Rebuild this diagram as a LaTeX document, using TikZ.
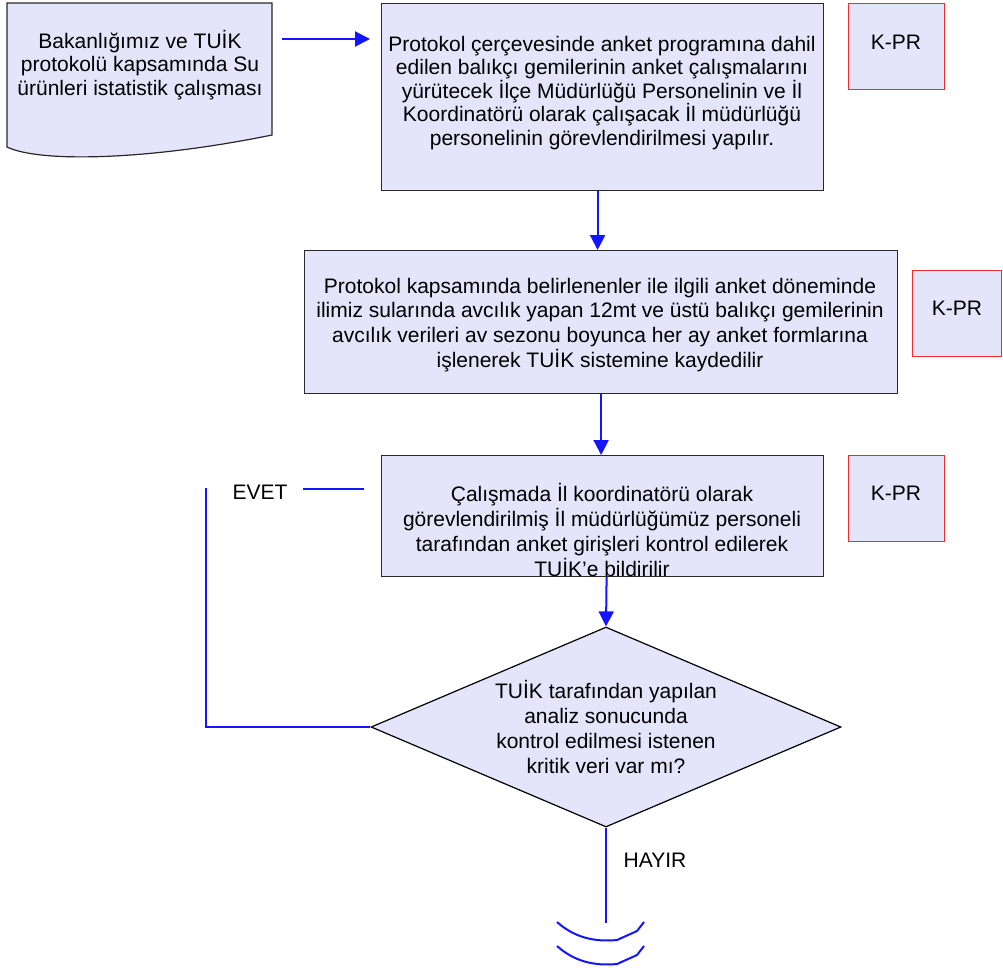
\documentclass[tikz,border=0pt]{standalone}
\usepackage{fontspec}
\setmainfont{Liberation Sans}
\usetikzlibrary{arrows.meta,shapes.geometric}
\definecolor{boxfill}{RGB}{228,228,250}
\definecolor{edgecol}{RGB}{40,40,40}
\definecolor{flowcol}{RGB}{20,20,255}
\definecolor{kprcol}{RGB}{240,45,45}
\begin{document}
\begin{tikzpicture}[x=1pt,y=-1pt,
  boxnode/.style={draw=edgecol,line width=1.2pt,fill=boxfill,inner sep=0pt,anchor=north west},
  kprnode/.style={draw=kprcol,line width=1.2pt,fill=boxfill,inner sep=0pt,anchor=north west},
  dianode/.style={diamond,draw=black,line width=1.2pt,fill=boxfill,inner sep=0pt,minimum width=470pt,minimum height=200pt},
  docshape/.style={draw=edgecol,line width=1.2pt,fill=boxfill},
  txt/.style={align=center,inner sep=0pt,font=\fontsize{21}{24.8}\selectfont},
  txtb/.style={align=center,inner sep=0pt,font=\fontsize{21}{23.5}\selectfont},
  flowline/.style={draw=flowcol,line width=2pt},
  arr/.style={flowline,-{Triangle[length=15pt,width=15pt]}}
]
\useasboundingbox (0,0) rectangle (1003,967);

% document shape
\draw[docshape] (7,3) -- (272,3) -- (272,135) .. controls (150,160) and (40,163) .. (7,147) -- cycle;
\node[txtb] (doctext) at (140,65) {Bakanlığımız ve TUİK\\protokolü kapsamında Su\\ürünleri istatistik çalışması};

% boxes
\node[boxnode,minimum width=442pt,minimum height=187pt] (b1) at (381,3) {};
\node[txtb] (t1) at (602,93) {Protokol çerçevesinde anket programına dahil\\edilen balıkçı gemilerinin anket çalışmalarını\\yürütecek İlçe Müdürlüğü Personelinin ve İl\\Koordinatörü olarak çalışacak İl müdürlüğü\\personelinin görevlendirilmesi yapılır.};

\node[boxnode,minimum width=593pt,minimum height=143pt] (b2) at (304,250) {};
\node[txt] (t2) at (600,325) {Protokol kapsamında belirlenenler ile ilgili anket döneminde\\ilimiz sularında avcılık yapan 12mt ve üstü balıkçı gemilerinin\\avcılık verileri av sezonu boyunca her ay anket formlarına\\işlenerek TUİK sistemine kaydedilir};

\node[boxnode,minimum width=442pt,minimum height=121pt] (b3) at (381,455) {};
\node[txt] (t3) at (602,530) {Çalışmada İl koordinatörü olarak\\görevlendirilmiş İl müdürlüğümüz personeli\\tarafından anket girişleri kontrol edilerek\\TUİK’e bildirilir};

% K-PR boxes
\node[kprnode,minimum width=96pt,minimum height=86pt] (k1) at (848,3) {};
\node[txt] (k1t) at (896,42) {K-PR};
\node[kprnode,minimum width=89pt,minimum height=86pt] (k2) at (912,270) {};
\node[txt] (k2t) at (957,308) {K-PR};
\node[kprnode,minimum width=96pt,minimum height=86pt] (k3) at (848,455) {};
\node[txt] (k3t) at (896,493) {K-PR};

% decision
\node[dianode] (dia) at (606,727) {};
\node[txt] (dt) at (606,727) {TUİK tarafından yapılan\\analiz sonucunda\\kontrol edilmesi istenen\\kritik veri var mı?};

% connectors
\coordinate (docE) at (282,39);
\draw[arr,shorten >=11pt] (docE) -- (docE -| b1.west);
\draw[arr] ([xshift=-5pt]b1.south) -- ([xshift=-5pt]b1.south |- b2.north);
\draw[arr] (b2.south) -- (b2.south |- b3.north);
\draw[arr] ([xshift=4pt]b3.south) -- (dia.north);

% EVET loop
\coordinate (evtop) at (206,488);
\draw[flowline] (dia.west) -- (dia.west -| evtop) -- (evtop);
\coordinate (ev1) at (303,489);
\coordinate (ev2) at (364,489);
\draw[flowline] (ev1) -- (ev2);
\node[txt] (evet) at (260,492) {EVET};

% HAYIR
\coordinate (hend) at (606,923);
\draw[flowline] (dia.south) -- (hend);
\node[txt] (hayir) at (655,860) {HAYIR};

% off-page arcs
\draw[flowline] (557,922) .. controls (575,938) and (595,942) .. (617,940) -- (637,931) -- (644,922);
\draw[flowline] (557,946) .. controls (575,962) and (595,966) .. (617,964) -- (637,955) -- (644,946);
\end{tikzpicture}
\end{document}
